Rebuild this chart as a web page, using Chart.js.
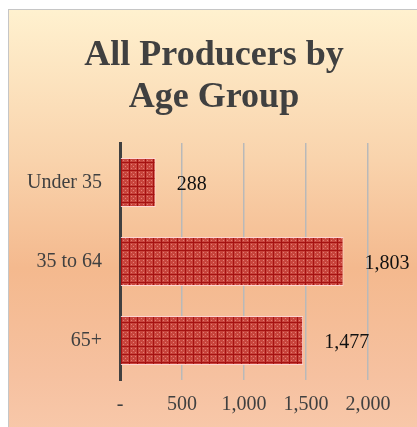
<!DOCTYPE html>
<html>
<head>
<meta charset="utf-8">
<script src="https://cdn.jsdelivr.net/npm/chart.js@4"></script>
<style>
  html, body { margin: 0; padding: 0; background: #fff; overflow: hidden; }
  #box {
    position: absolute; left: 8px; top: 9px; width: 420px; height: 430px;
    border: 1px solid #c6c6c6;
    background: linear-gradient(to bottom, #fff1cf 0%, #f9d3ac 35%, #f4b98e 60%, #f6c1a0 85%, #f8c9ab 100%);
  }
  #title {
    position: absolute; left: 0; top: 22px; width: 410px;
    text-align: center; color: #404040;
    font-family: 'Liberation Serif', 'Times New Roman', Times, serif;
    font-weight: bold; font-size: 36px; line-height: 42px;
  }
  #wrap { position: absolute; left: 0; top: 0; width: 408px; height: 417px; }
</style>
</head>
<body>
<div id="box">
  <div id="wrap"><canvas id="ageChart"></canvas></div>
  <div id="title">All Producers by<br>Age Group</div>
</div>
<script>
const categories = ['Under 35', '35 to 64', '65+'];
const producers = [288, 1803, 1477];
const tickValues = [0, 500, 1000, 1500, 2000];
const tickLabels = ['-', '500', '1,000', '1,500', '2,000'];

const SERIF = "'Liberation Serif', 'Times New Roman', Times, serif";

function makePattern() {
  const c = document.createElement('canvas');
  c.width = 8; c.height = 8;
  const g = c.getContext('2d');
  g.fillStyle = '#c8443c';
  g.fillRect(0, 0, 8, 8);
  g.fillStyle = '#e47c74';
  for (let y = 2; y < 8; y += 2) {
    for (let x = 2; x < 8; x += 2) {
      if ((x + y) % 4 === 0) g.fillRect(x, y, 1, 1);
    }
  }
  g.fillStyle = '#a51212';
  g.fillRect(0, 0, 8, 1);
  g.fillRect(0, 0, 1, 8);
  return g.createPattern(c, 'repeat');
}

const valueLabels = {
  id: 'valueLabels',
  afterDatasetsDraw(chart) {
    const ctx = chart.ctx;
    const meta = chart.getDatasetMeta(0);
    ctx.save();
    ctx.font = '20px ' + SERIF;
    ctx.fillStyle = '#111111';
    ctx.textAlign = 'left';
    ctx.textBaseline = 'middle';
    meta.data.forEach((bar, i) => {
      ctx.fillText(producers[i].toLocaleString('en-US'), bar.x + 21, bar.y + 2);
    });
    ctx.restore();
  }
};

const ctx = document.getElementById('ageChart').getContext('2d');
new Chart(ctx, {
  type: 'bar',
  data: {
    labels: categories,
    datasets: [{
      data: producers,
      backgroundColor: makePattern(),
      borderColor: 'rgba(255, 215, 215, 0.9)',
      borderWidth: 1,
      borderSkipped: 'left',
      barPercentage: 0.62,
      categoryPercentage: 1.0
    }]
  },
  options: {
    indexAxis: 'y',
    responsive: true,
    maintainAspectRatio: false,
    animation: false,
    layout: { padding: { left: 0, right: 49, top: 133, bottom: 0 } },
    plugins: {
      legend: { display: false },
      tooltip: { enabled: false },
      title: { display: false }
    },
    scales: {
      x: {
        min: 0,
        max: 2000,
        afterBuildTicks: (scale) => {
          scale.ticks = tickValues.map(v => ({ value: v }));
        },
        afterFit: (scale) => { scale.height = 47; },
        ticks: {
          callback: (value) => tickLabels[tickValues.indexOf(value)],
          color: '#404040',
          font: { family: SERIF, size: 20 },
          padding: 13,
          maxRotation: 0,
          autoSkip: false
        },
        grid: {
          drawTicks: false,
          color: (c) => (c.tick && c.tick.value === 0 ? 'rgba(0,0,0,0)' : '#b9b9b9'),
          lineWidth: 1.5
        },
        border: { display: false }
      },
      y: {
        afterFit: (scale) => { scale.width = 111; },
        ticks: {
          color: '#404040',
          font: { family: SERIF, size: 20 },
          padding: 18
        },
        grid: { display: false, drawTicks: false },
        border: { display: true, color: '#404040', width: 3 }
      }
    }
  },
  plugins: [valueLabels]
});
</script>
</body>
</html>
